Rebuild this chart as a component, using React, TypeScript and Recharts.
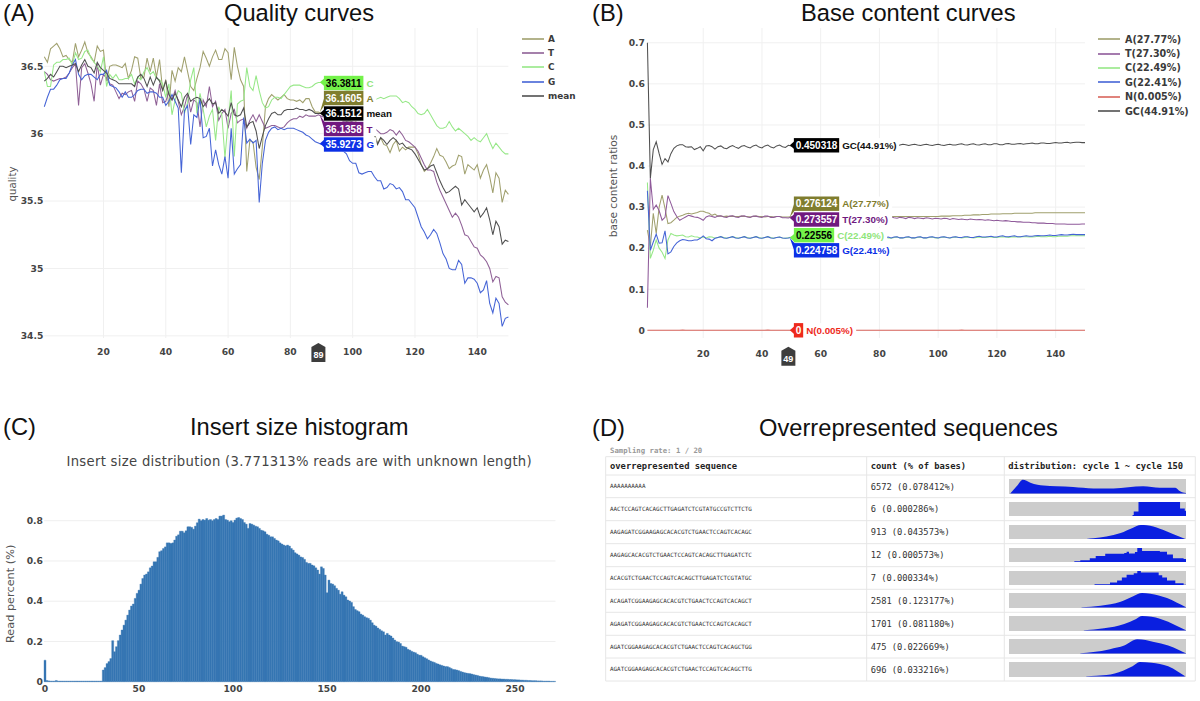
import React from 'react';
import { LineChart, Line, BarChart, Bar, AreaChart, Area, XAxis, YAxis, CartesianGrid, ReferenceDot, Legend } from 'recharts';

const cycles = Array.from({ length: 150 }, (_, i) => i + 1);

const qualityA = [36.57,36.53,36.63,36.65,36.67,36.63,36.57,36.58,36.55,36.53,36.67,36.57,36.62,36.68,36.60,36.57,36.53,36.65,36.61,36.62,36.39,36.50,36.51,36.51,36.50,36.49,36.52,36.41,36.47,36.57,36.56,36.41,36.42,36.56,36.46,36.56,36.42,36.55,36.32,36.40,36.20,36.47,36.39,36.49,36.46,36.57,36.46,36.35,36.32,36.41,36.49,36.61,36.56,36.50,36.57,36.62,36.55,36.55,36.63,36.60,36.40,36.64,36.50,36.40,36.35,35.72,35.95,35.94,35.75,35.66,35.90,36.20,36.26,36.29,36.27,36.25,36.27,36.29,36.26,36.25,36.25,36.24,36.25,36.23,36.26,36.26,36.20,36.16,36.16,36.15,36.14,36.15,36.13,36.12,36.13,36.11,36.10,36.11,36.09,36.08,36.09,36.07,36.06,36.05,36.04,36.03,36.00,35.93,35.97,35.92,35.91,35.86,35.92,35.95,35.87,35.90,35.88,35.90,35.90,35.90,35.85,35.77,35.72,35.74,35.78,35.83,35.89,35.84,35.83,35.79,35.74,35.76,35.77,35.84,35.83,35.70,35.77,35.75,35.73,35.77,35.67,35.73,35.77,35.68,35.56,35.71,35.67,35.49,35.58,35.55];
const qualityT = [36.46,36.44,36.40,36.39,36.40,36.41,36.41,36.42,36.45,36.49,36.52,36.21,36.49,36.52,36.45,36.37,36.24,36.52,36.36,36.44,36.41,36.37,36.36,36.31,36.26,36.30,36.29,36.31,36.32,36.24,36.39,36.37,36.33,36.24,36.34,36.32,36.21,36.37,36.23,36.24,36.31,36.25,36.32,36.24,36.14,36.20,36.29,36.16,36.25,36.23,36.05,36.25,36.20,36.35,36.20,36.24,36.10,36.15,36.18,36.04,36.15,36.18,36.08,36.10,36.11,36.04,36.10,36.14,36.09,36.14,36.09,36.04,36.05,36.06,36.06,36.05,36.04,36.05,36.08,36.10,36.11,36.11,36.13,36.12,36.14,36.13,36.13,36.13,36.14,36.13,36.12,36.13,36.11,36.12,36.10,36.11,36.09,36.10,36.08,36.09,36.07,36.08,36.06,36.07,36.05,36.05,36.04,36.02,36.00,36.00,36.01,36.03,36.02,35.99,36.02,35.99,35.95,35.94,35.92,35.90,35.87,35.82,35.77,35.73,35.73,35.72,35.64,35.58,35.53,35.48,35.43,35.38,35.41,35.38,35.32,35.25,35.24,35.20,35.16,35.15,35.10,35.08,35.05,35.00,34.90,34.94,34.93,34.79,34.75,34.73];
const qualityC = [36.46,36.35,36.35,36.51,36.53,36.53,36.55,36.55,36.56,36.51,36.60,36.55,36.56,36.61,36.62,36.56,36.53,36.50,36.46,36.57,36.35,36.44,36.41,36.44,36.40,36.40,36.41,36.41,36.44,36.37,36.42,36.40,36.46,36.49,36.44,36.46,36.41,36.40,36.37,36.27,36.37,36.14,36.25,36.32,36.30,36.15,36.23,36.40,36.49,36.15,36.30,36.18,36.05,36.13,36.18,35.95,36.20,36.14,35.82,36.09,36.32,35.83,36.22,36.24,36.25,36.49,36.35,36.32,36.43,36.32,36.23,36.19,36.20,36.25,36.27,36.27,36.26,36.29,36.32,36.35,36.36,36.36,36.36,36.35,36.34,36.34,36.35,36.37,36.38,36.38,36.37,36.38,36.36,36.35,36.36,36.34,36.33,36.32,36.32,36.30,36.31,36.29,36.28,36.28,36.26,36.26,36.25,36.26,36.27,36.26,36.27,36.28,36.28,36.28,36.26,36.23,36.24,36.23,36.20,36.18,36.15,36.14,36.15,36.18,36.14,36.10,36.06,36.04,36.04,36.05,36.09,36.05,36.02,36.04,36.02,36.00,35.98,35.95,35.97,35.95,35.94,35.97,36.00,35.94,35.89,35.93,35.90,35.87,35.85,35.85];
const qualityG = [36.20,36.27,36.33,36.33,36.36,36.40,36.41,36.41,36.45,36.51,36.55,36.44,36.40,36.43,36.44,36.44,36.42,36.40,36.44,36.44,36.47,36.36,36.35,36.34,36.31,36.27,36.31,36.27,36.27,36.29,36.32,36.33,36.33,36.30,36.31,36.31,36.30,36.27,36.27,36.21,36.24,36.29,36.24,36.19,35.71,36.17,36.21,35.92,36.14,36.12,36.26,35.97,35.98,36.04,35.76,35.88,35.77,35.70,35.83,35.67,36.04,35.70,35.74,35.77,36.12,35.93,35.96,35.93,35.95,35.49,35.78,35.95,36.01,36.04,36.05,36.03,36.04,36.03,36.04,36.04,36.04,36.03,36.02,36.01,35.99,35.98,35.96,35.94,35.93,35.92,35.92,35.91,35.91,35.90,35.89,35.88,35.87,35.85,35.80,35.78,35.78,35.71,35.70,35.71,35.72,35.72,35.68,35.65,35.65,35.59,35.60,35.63,35.62,35.59,35.60,35.57,35.51,35.51,35.48,35.45,35.38,35.31,35.27,35.22,35.25,35.29,35.26,35.19,35.11,35.07,35.00,34.99,34.99,35.06,35.03,34.89,34.93,34.93,34.92,34.89,34.82,34.84,34.91,34.74,34.67,34.78,34.74,34.57,34.63,34.64];
const qualityMean = [36.39,36.41,36.44,36.42,36.46,36.50,36.50,36.49,36.50,36.51,36.52,36.46,36.51,36.55,36.50,36.49,36.45,36.53,36.49,36.47,36.45,36.41,36.40,36.39,36.37,36.37,36.37,36.37,36.37,36.35,36.42,36.44,36.41,36.35,36.42,36.36,36.42,36.39,36.32,36.39,36.29,36.25,36.30,36.25,36.20,36.27,36.30,36.24,36.26,36.27,36.26,36.20,36.23,36.26,36.22,36.23,36.15,36.18,36.16,36.13,36.23,36.14,36.13,36.14,36.19,36.05,36.08,36.09,36.02,35.89,35.98,36.06,36.11,36.15,36.16,36.14,36.14,36.17,36.18,36.18,36.18,36.19,36.18,36.18,36.17,36.18,36.17,36.15,36.15,36.15,36.14,36.13,36.14,36.12,36.11,36.12,36.10,36.09,36.10,36.08,36.07,36.06,36.05,36.04,36.03,36.01,35.99,35.92,35.97,35.95,35.92,35.95,35.97,35.95,35.92,35.93,35.90,35.89,35.88,35.85,35.81,35.77,35.73,35.74,35.76,35.77,35.71,35.65,35.60,35.56,35.57,35.59,35.61,35.59,35.47,35.51,35.48,35.45,35.42,35.45,35.38,35.41,35.45,35.36,35.25,35.35,35.31,35.18,35.21,35.20];

const contentA = [.244,.204,.285,.236,.30,.329,.297,.26,.262,.268,.275,.278,.28,.283,.285,.283,.285,.287,.29,.29,.287,.285,.28,.283,.278,.278,.277,.278,.277,.278,.277,.277,.278,.277,.277,.276,.277,.278,.277,.277,.276,.277,.277,.276,.277,.277,.276,.276,.276,.277,.276,.276,.277,.276,.276,.277,.276,.276,.277,.276,.276,.277,.276,.277,.277,.276,.277,.277,.276,.277,.277,.276,.277,.277,.277,.276,.277,.277,.276,.277,.277,.277,.277,.277,.277,.277,.277,.277,.277,.277,.277,.277,.277,.277,.277,.277,.277,.277,.277,.277,.278,.278,.278,.278,.279,.279,.279,.279,.280,.280,.280,.281,.281,.281,.282,.282,.282,.283,.283,.283,.283,.284,.284,.284,.284,.285,.285,.285,.285,.285,.285,.285,.286,.286,.286,.286,.286,.286,.286,.286,.286,.286,.286,.286,.286,.286,.286,.286,.286,.286];
const contentT = [.055,.37,.294,.305,.291,.268,.275,.328,.309,.289,.277,.268,.272,.276,.28,.278,.276,.275,.272,.268,.276,.279,.277,.275,.278,.279,.276,.275,.278,.279,.276,.275,.278,.279,.276,.275,.278,.278,.276,.275,.278,.278,.275,.275,.277,.277,.274,.274,.2736,.276,.274,.273,.276,.275,.273,.276,.275,.273,.276,.275,.273,.276,.275,.273,.275,.275,.273,.275,.275,.273,.275,.275,.273,.275,.275,.273,.275,.275,.273,.275,.274,.273,.275,.276,.274,.273,.275,.274,.272,.275,.274,.272,.274,.273,.272,.274,.273,.271,.273,.272,.271,.273,.272,.270,.272,.271,.270,.271,.270,.269,.271,.270,.269,.270,.269,.268,.269,.268,.267,.268,.267,.266,.267,.266,.265,.265,.264,.264,.263,.263,.263,.262,.262,.261,.261,.261,.260,.260,.260,.259,.259,.259,.259,.258,.258,.258,.258,.258,.259,.259];
const contentC = [.36,.175,.195,.22,.20,.19,.175,.22,.236,.232,.23,.231,.232,.228,.227,.23,.228,.227,.225,.227,.225,.228,.227,.224,.226,.228,.226,.224,.226,.228,.226,.224,.226,.228,.226,.224,.226,.228,.226,.224,.226,.228,.226,.224,.226,.227,.225,.224,.2256,.227,.225,.224,.226,.227,.225,.224,.226,.227,.225,.224,.226,.227,.225,.224,.226,.227,.225,.224,.226,.227,.225,.224,.226,.227,.225,.224,.226,.227,.225,.224,.226,.227,.225,.224,.226,.227,.225,.225,.226,.227,.225,.225,.226,.227,.225,.225,.226,.227,.225,.225,.226,.227,.226,.225,.226,.227,.226,.225,.226,.227,.226,.225,.226,.227,.226,.226,.227,.227,.226,.226,.227,.228,.227,.226,.227,.228,.227,.227,.228,.228,.227,.227,.228,.229,.228,.228,.228,.229,.228,.228,.229,.229,.229,.229,.230,.230,.230,.230,.230,.230];
const contentG = [.34,.195,.215,.234,.212,.213,.242,.186,.191,.204,.213,.218,.221,.22,.218,.218,.22,.22,.224,.23,.223,.222,.218,.224,.226,.228,.225,.224,.226,.228,.225,.224,.226,.228,.225,.224,.226,.228,.225,.224,.226,.228,.225,.224,.226,.227,.225,.224,.2248,.226,.228,.225,.224,.226,.228,.225,.224,.226,.227,.225,.224,.226,.227,.225,.224,.226,.227,.225,.224,.226,.227,.225,.224,.226,.227,.225,.224,.226,.227,.225,.224,.226,.227,.225,.227,.228,.225,.225,.227,.228,.225,.225,.227,.228,.225,.225,.227,.228,.226,.225,.227,.228,.226,.225,.227,.228,.226,.226,.228,.228,.226,.226,.228,.229,.227,.227,.228,.229,.227,.227,.229,.230,.228,.228,.229,.230,.228,.228,.229,.230,.229,.229,.230,.231,.230,.230,.231,.232,.231,.231,.232,.233,.232,.232,.233,.234,.233,.233,.233,.233];
const contentN = [0,0,0,0,0,0,0,0,0,0,0,0,.001,0,0,0,0,0,0,0,0,0,0,0,0,0,0,0,0,0,0,0,0,0,0,0,0,0,0,0,0,.001,0,0,0,0,0,0,0,0,0,0,0,0,0,0,0,0,0,0,0,0,0,0,0,0,0,0,0,0,0,0,0,0,0,0,0,0,0,0,0,0,0,0,0,0,0,0,0,0,0,0,0,0,0,0,0,0,0,0,0,0,0,0,0,0,0,.001,0,0,0,0,0,0,0,0,0,0,0,0,0,0,0,0,0,0,0,0,0,0,0,0,0,0,0,0,0,0,0,0,0,0,0,0,0,0,0,0,0,0];
const contentGC = [.70,.37,.44,.459,.43,.404,.418,.41,.43,.443,.449,.452,.452,.447,.446,.447,.44,.443,.447,.437,.449,.45,.447,.441,.447,.449,.444,.442,.447,.45,.446,.443,.448,.45,.446,.444,.449,.451,.446,.444,.449,.451,.446,.444,.449,.451,.447,.445,.4503,.449,.447,.450,.451,.448,.447,.450,.451,.448,.447,.450,.451,.448,.447,.450,.451,.448,.447,.450,.451,.448,.447,.450,.451,.448,.448,.450,.451,.449,.448,.450,.451,.449,.448,.450,.451,.449,.451,.453,.452,.450,.452,.453,.451,.450,.452,.453,.451,.450,.452,.453,.451,.450,.452,.453,.451,.451,.453,.454,.452,.451,.453,.454,.452,.451,.453,.454,.452,.452,.454,.454,.452,.452,.454,.455,.453,.453,.454,.455,.453,.454,.455,.456,.454,.454,.456,.456,.455,.455,.456,.457,.456,.456,.457,.458,.456,.457,.458,.458,.457,.457];

const insertSizes = Array.from({ length: 272 }, (_, i) => i);
const insertPercent = [.107,.006,.004,.003,.003,.003,.006,.003,.003,.003,.003,.003,.003,.003,.003,.003,.003,.003,.003,.003,.003,.003,.003,.003,.003,.003,.003,.003,.003,.003,.003,.058,.07,.09,.10,.115,.204,.149,.174,.204,.232,.257,.281,.306,.331,.356,.376,.386,.414,.439,.455,.485,.513,.53,.535,.546,.566,.575,.596,.596,.618,.646,.651,.662,.67,.69,.69,.687,.69,.704,.723,.73,.748,.748,.74,.75,.77,.77,.767,.758,.773,.79,.808,.80,.806,.803,.811,.803,.806,.80,.806,.811,.806,.823,.823,.828,.806,.803,.795,.80,.791,.803,.813,.816,.811,.806,.791,.783,.762,.786,.783,.778,.773,.77,.762,.753,.75,.745,.733,.728,.72,.72,.712,.704,.70,.69,.684,.679,.675,.679,.674,.662,.654,.641,.635,.629,.62,.617,.608,.593,.588,.588,.58,.576,.566,.555,.535,.571,.563,.53,.442,.505,.488,.485,.477,.464,.455,.435,.447,.43,.422,.406,.401,.394,.373,.359,.353,.348,.336,.331,.323,.318,.315,.306,.293,.281,.276,.267,.26,.253,.248,.232,.24,.232,.227,.217,.207,.199,.197,.19,.177,.174,.171,.161,.157,.151,.147,.144,.137,.132,.131,.124,.119,.114,.108,.103,.099,.096,.091,.088,.084,.081,.078,.075,.075,.071,.066,.061,.06,.058,.055,.051,.048,.045,.043,.041,.04,.038,.035,.033,.031,.028,.026,.025,.023,.022,.02,.018,.017,.016,.015,.014,.014,.013,.013,.012,.012,.011,.011,.01,.01,.009,.009,.008,.008,.007,.007,.006,.006,.005,.005,.005,.004,.004,.004,.003,.003,.003,.003,.002,.002,.002];

const sequences = ['AAAAAAAAAA','AACTCCAGTCACAGCTTGAGATCTCGTATGCCGTCTTCTG','AAGAGATCGGAAGAGCACACGTCTGAACTCCAGTCACAGC','AAGAGCACACGTCTGAACTCCAGTCACAGCTTGAGATCTC','ACACGTCTGAACTCCAGTCACAGCTTGAGATCTCGTATGC','ACAGATCGGAAGAGCACACGTCTGAACTCCAGTCACAGCT','AGAGATCGGAAGAGCACACGTCTGAACTCCAGTCACAGCT','AGATCGGAAGAGCACACGTCTGAACTCCAGTCACAGCTGG','AGATCGGAAGAGCACACGTCTGAACTCCAGTCACAGCTTG'];
const sequenceCounts = ['6572 (0.078412%)','6 (0.000286%)','913 (0.043573%)','12 (0.000573%)','7 (0.000334%)','2581 (0.123177%)','1701 (0.081180%)','475 (0.022669%)','696 (0.033216%)'];

const spark1 = [[2,0],[8,.55],[12.5,.95],[19,.75],[25,.6],[30,.55],[41,.5],[55,.45],[72,.35],[89,.35],[114,.5],[128,.4],[141,.4],[145,.15],[150,.03]];
const spark2 = [[105,.1],[106,.35],[110,1],[144,1],[145,.55],[149,.4],[150,.1]];
const spark3 = [[64,.02],[72,.08],[83,.2],[95,.45],[105,.8],[112,1],[117,.98],[128,.75],[140,.35],[150,.02]];
const spark4 = [[56,.08],[61,.15],[69,.3],[74,.45],[82,.6],[98,.65],[100,.75],[102,.62],[107,.72],[109,1],[113,.8],[128,.75],[134,.55],[139,.3],[148,.25],[150,.05]];
const spark5 = [[73,.08],[86,.2],[92,.35],[96,.55],[100,.75],[106,.85],[109,1],[112,.9],[127,.7],[130,.55],[134,.35],[141,.15],[148,.05],[150,.05]];
const spark6 = [[62,.02],[78,.12],[95,.4],[106,.8],[113,1],[120,.95],[134,.65],[142,.35],[150,.02]];
const spark7 = [[64,.02],[81,.15],[98,.45],[108,.8],[113,1],[121,.95],[135,.6],[142,.33],[150,.02]];
const spark8 = [[61,.02],[72,.1],[86,.3],[98,.55],[109,.98],[123,.8],[135,.55],[144,.25],[150,.02]];
const spark9 = [[66,.02],[83,.1],[97,.4],[105,.7],[111,1],[121,.95],[135,.7],[143,.35],[149,.03]];
const sparks = [spark1, spark2, spark3, spark4, spark5, spark6, spark7, spark8, spark9];
const stepped = [false, true, false, true, true, false, false, false, false];

const qualityRows = cycles.map((x, i) => ({ x, A: qualityA[i], T: qualityT[i], C: qualityC[i], G: qualityG[i], mean: qualityMean[i] }));
const contentRows = cycles.map((x, i) => ({ x, A: contentA[i], T: contentT[i], C: contentC[i], G: contentG[i], N: contentN[i], GC: contentGC[i] }));
const insertRows = insertSizes.map((size, i) => ({ size, pct: insertPercent[i] }));

const SANS = '"Liberation Sans", Arial, sans-serif';
const VERD = '"DejaVu Sans", Verdana, sans-serif';
const MONO = '"DejaVu Sans Mono", monospace';
const TICK = { fontFamily: VERD, fontSize: 9.2, fontWeight: 700, fill: '#444' };

const qualitySeries = [
  { key: 'A', name: 'A', color: '#a0a06e' },
  { key: 'T', name: 'T', color: '#8f6096' },
  { key: 'C', name: 'C', color: '#97e888' },
  { key: 'G', name: 'G', color: '#4564d6' },
  { key: 'mean', name: 'mean', color: '#505050' },
];
const contentSeries = [
  { key: 'A', name: 'A(27.77%)', color: '#a0a06e' },
  { key: 'T', name: 'T(27.30%)', color: '#8f5a9a' },
  { key: 'C', name: 'C(22.49%)', color: '#97e888' },
  { key: 'G', name: 'G(22.41%)', color: '#4564d6' },
  { key: 'N', name: 'N(0.005%)', color: '#d9645c' },
  { key: 'GC', name: 'GC(44.91%)', color: '#505050' },
];

const OLIVE = '#7f7d2e', PURPLE = '#70197f', GREEN = '#74f24a', BLUE = '#0b2fe6', RED = '#ee2a1c';
const qualityTags = [
  { y: 36.3811, text: '36.3811', label: 'C', fill: GREEN, ink: '#000', labelInk: '#8fe57a', center: 83, w: 39.5, lw: 10 },
  { y: 36.1605, text: '36.1605', label: 'A', fill: OLIVE, ink: '#fff', labelInk: OLIVE, center: 98, w: 39.5, lw: 10 },
  { y: 36.1512, text: '36.1512', label: 'mean', fill: '#000', ink: '#fff', labelInk: '#111', center: 113.5, w: 39.5, lw: 27 },
  { y: 36.1358, text: '36.1358', label: 'T', fill: PURPLE, ink: '#fff', labelInk: PURPLE, center: 129, w: 39.5, lw: 10 },
  { y: 35.9273, text: '35.9273', label: 'G', fill: BLUE, ink: '#fff', labelInk: BLUE, center: 144.5, w: 39.5, lw: 10 },
];
const contentTags = [
  { y: 0.450318, text: '0.450318', label: 'GC(44.91%)', fill: '#000', ink: '#fff', labelInk: '#111', center: 145.3, w: 45.3, lw: 57 },
  { y: 0.276124, text: '0.276124', label: 'A(27.77%)', fill: OLIVE, ink: '#fff', labelInk: OLIVE, center: 203.7, w: 45.3, lw: 50 },
  { y: 0.273557, text: '0.273557', label: 'T(27.30%)', fill: PURPLE, ink: '#fff', labelInk: PURPLE, center: 219.5, w: 45.3, lw: 50 },
  { y: 0.22556, text: '0.22556', label: 'C(22.49%)', fill: GREEN, ink: '#000', labelInk: '#8fe57a', center: 235.2, w: 40.3, lw: 50 },
  { y: 0.224758, text: '0.224758', label: 'G(22.41%)', fill: BLUE, ink: '#fff', labelInk: BLUE, center: 250.3, w: 45.3, lw: 50 },
  { y: 0, text: '0', label: 'N(0.005%)', fill: RED, ink: '#fff', labelInk: RED, center: 330.3, w: 9.3, lw: 50 },
];

function tagShape(t: any) {
  return (p: any) => {
    const cx = p.cx, cy = p.cy;
    const left = cx + 5.5, h = 14.4, top = t.center - h / 2;
    const base = Math.max(top + 4, Math.min(top + h - 4, cy));
    return (
      <g>
        <rect x={left} y={top} width={t.w + t.lw + 3} height={h} fill="#fff" />
        <polygon points={`${cx + 1.5},${cy} ${left + 0.5},${base - 4} ${left + 0.5},${base + 4}`} fill={t.fill} />
        <rect x={left} y={top} width={t.w} height={h} fill={t.fill} />
        <text x={left + t.w / 2} y={t.center + 3.5} textAnchor="middle" fontFamily={SANS} fontWeight={700} fontSize={10} fill={t.ink}>{t.text}</text>
        <text x={left + t.w + 3} y={t.center + 3.5} fontFamily={SANS} fontWeight={700} fontSize={9.8} fill={t.labelInk}>{t.label}</text>
      </g>
    );
  };
}

function cursorShape(text: string, gap: number) {
  return (p: any) => {
    const cx = p.cx, cy = p.cy + gap;
    return (
      <g>
        <polygon points={`${cx},${cy} ${cx + 7},${cy + 4} ${cx + 7},${cy + 19} ${cx - 7},${cy + 19} ${cx - 7},${cy + 4}`} fill="#3d3d3d" />
        <text x={cx} y={cy + 15} textAnchor="middle" fontFamily={SANS} fontWeight={700} fontSize={9} fill="#fff">{text}</text>
      </g>
    );
  };
}

function legendContent(fontSize: number, lineW: number, textGap: number) {
  return (p: any) => (
    <div>
      {(p.payload || []).map((e: any) => (
        <div key={e.value} style={{ display: 'flex', alignItems: 'center', height: 14.4, whiteSpace: 'nowrap' }}>
          <svg width={lineW} height={4} style={{ marginRight: textGap, flex: 'none' }}>
            <line x1={0} x2={lineW} y1={2} y2={2} stroke={e.color} strokeWidth={1.6} />
          </svg>
          <span style={{ fontFamily: VERD, fontWeight: 700, fontSize, color: '#3a3a3a' }}>{e.value}</span>
        </div>
      ))}
    </div>
  );
}

const rowTops = [475, 497.7, 520.7, 543.7, 566.7, 589.3, 612.3, 635.3, 658];
const colLines = [605.7, 866.7, 1004.3, 1195.3];

function Backdrop() {
  const title = (x: number, y: number, s: string) => (
    <text x={x} y={y} fontFamily={SANS} fontSize={23.7} fill="#111">{s}</text>
  );
  return (
    <svg width={1200} height={701} style={{ position: 'absolute', left: 0, top: 0 }}>
      {title(3, 21, '(A)')}
      {title(224, 21, 'Quality curves')}
      {title(592, 21, '(B)')}
      {title(801, 21, 'Base content curves')}
      {title(3, 435, '(C)')}
      {title(190, 435, 'Insert size histogram')}
      {title(592, 436, '(D)')}
      {title(759, 436, 'Overrepresented sequences')}
      <text x={66.5} y={466} fontFamily={VERD} fontSize={13.2} letterSpacing={0.3} fill="#444">Insert size distribution (3.771313% reads are with unknown length)</text>
      <text x={610} y={453} fontFamily={MONO} fontWeight={700} fontSize={7.3} fill="#999">Sampling rate: 1 / 20</text>
      {[456.7, ...rowTops, 681].map((y) => (
        <line key={y} x1={605.7} x2={1195.3} y1={y} y2={y} stroke="#e6e6e6" />
      ))}
      {colLines.map((x) => (
        <line key={x} x1={x} x2={x} y1={456.7} y2={681} stroke="#e6e6e6" />
      ))}
      <text x={610} y={469} fontFamily={MONO} fontWeight={700} fontSize={8.8} fill="#222">overrepresented sequence</text>
      <text x={870.7} y={469} fontFamily={MONO} fontWeight={700} fontSize={8.8} fill="#222">count (% of bases)</text>
      <text x={1008.3} y={469} fontFamily={MONO} fontWeight={700} fontSize={8.8} fill="#222">distribution: cycle 1 ~ cycle 150</text>
      {sequences.map((s, i) => (
        <text key={s} x={610} y={rowTops[i] + 13.4} fontFamily={MONO} fontSize={5.9} fill="#333">{s}</text>
      ))}
      {sequenceCounts.map((s, i) => (
        <text key={s} x={870.7} y={rowTops[i] + 14.6} fontFamily={MONO} fontSize={8.75} fill="#333">{s}</text>
      ))}
    </svg>
  );
}

const xTicks = [20, 40, 60, 80, 100, 120, 140];
const qualityTicks = [34.5, 35, 35.5, 36, 36.5];
const contentTicks = [0, 0.1, 0.2, 0.3, 0.4, 0.5, 0.6, 0.7];
const insertTicks = [0, 0.2, 0.4, 0.6, 0.8];

export default function App() {
  return (
    <div style={{ position: 'absolute', left: 0, top: 0, width: 1200, height: 701, background: '#fff', overflow: 'hidden' }}>
      <Backdrop />

      <div style={{ position: 'absolute', left: 0, top: 0 }}>
        <LineChart width={600} height={375} data={qualityRows} margin={{ left: 0, right: 91.6, top: 28, bottom: 7 }}>
          <CartesianGrid stroke="#f0f0f0" syncWithTicks />
          <XAxis dataKey="x" type="number" domain={[1, 150]} ticks={xTicks} height={30} tickLine={false} axisLine={false} tickSize={0} tickMargin={10} tick={TICK} />
          <YAxis type="number" domain={[34.484, 36.784]} ticks={qualityTicks} width={44.3} tickLine={false} axisLine={false} tickSize={0} tickMargin={1} tick={TICK}
            label={{ value: 'quality', angle: -90, position: 'insideLeft', offset: 0, dx: 12, dy: 1, textAnchor: 'middle', style: { fontFamily: VERD, fontSize: 10.2, fill: '#555', textAnchor: 'middle' } }} />
          <Legend layout="horizontal" verticalAlign="middle" itemSorter={null} wrapperStyle={{ left: 521.5, top: 31.5, width: 70 }} content={legendContent(8.9, 22.5, 4)} />
          {qualitySeries.map((s) => (
            <Line key={s.key} dataKey={s.key} name={s.name} stroke={s.color} strokeWidth={1.05} dot={false} isAnimationActive={false} />
          ))}
          {qualityTags.map((t) => (
            <ReferenceDot key={t.label} x={89} y={t.y} r={0} shape={tagShape(t)} />
          ))}
          <ReferenceDot x={89} y={34.484} r={0} shape={cursorShape('89', 5)} />
        </LineChart>
      </div>

      <div style={{ position: 'absolute', left: 590, top: 0 }}>
        <LineChart width={610} height={375} data={contentRows} margin={{ left: 0, right: 115, top: 28, bottom: 7 }}>
          <CartesianGrid stroke="#f0f0f0" syncWithTicks />
          <XAxis dataKey="x" type="number" domain={[1, 150]} ticks={xTicks} height={30} tickLine={false} axisLine={false} tickSize={0} tickMargin={12.5} tick={TICK} />
          <YAxis type="number" domain={[-0.0187, 0.736]} ticks={contentTicks} width={57.4} tickLine={false} axisLine={false} tickSize={0} tickMargin={2.4} tick={TICK}
            label={{ value: 'base content ratios', angle: -90, position: 'insideLeft', offset: 0, dx: 23, dy: 3, textAnchor: 'middle', style: { fontFamily: VERD, fontSize: 10.6, fill: '#555', textAnchor: 'middle' } }} />
          <Legend layout="horizontal" verticalAlign="middle" itemSorter={null} wrapperStyle={{ left: 508, top: 32, width: 100 }} content={legendContent(9.6, 22, 5)} />
          {contentSeries.map((s) => (
            <Line key={s.key} dataKey={s.key} name={s.name} stroke={s.color} strokeWidth={1.05} dot={false} isAnimationActive={false} />
          ))}
          {contentTags.map((t) => (
            <ReferenceDot key={t.label} x={49} y={t.y} r={0} shape={tagShape(t)} />
          ))}
          <ReferenceDot x={49} y={-0.0187} r={0} shape={cursorShape('49', 8.7)} />
        </LineChart>
      </div>

      <div style={{ position: 'absolute', left: 0, top: 490 }}>
        <BarChart width={600} height={211} data={insertRows} barCategoryGap={0} margin={{ left: 0, right: 44.5, top: 10, bottom: 0 }}>
          <CartesianGrid stroke="#efefef" vertical={false} syncWithTicks />
          <XAxis dataKey="size" ticks={[0, 50, 100, 150, 200, 250]} interval={0} height={19.3} tickLine={false} axisLine={false} tickSize={0} tickMargin={4} tick={TICK} />
          <YAxis type="number" domain={[0, 0.903]} ticks={insertTicks} width={44} tickLine={false} axisLine={false} tickSize={0} tickMargin={1} tick={TICK}
            label={{ value: 'Read percent (%)', angle: -90, position: 'insideLeft', offset: 0, dx: 10, dy: 3, textAnchor: 'middle', style: { fontFamily: VERD, fontSize: 11.3, fill: '#555', textAnchor: 'middle' } }} />
          <Bar dataKey="pct" fill="#3676b3" stroke="#3676b3" strokeWidth={0.35} isAnimationActive={false} />
        </BarChart>
      </div>

      {sparks.map((spark, i) => (
        <div key={i} style={{ position: 'absolute', left: 1008.7, top: 479 + rowTops[i] - 475, width: 177, height: 14.5, background: '#cccccc' }}>
          <AreaChart width={177} height={14.5} data={spark.map(([c, v]) => ({ c, v }))} margin={{ left: 0, right: 0, top: 0, bottom: 0 }}>
            <XAxis dataKey="c" type="number" domain={[1, 150]} hide />
            <YAxis type="number" domain={[0, 1]} hide />
            <Area dataKey="v" type={stepped[i] ? 'stepAfter' : 'monotone'} stroke="none" fill="#0a1fe0" fillOpacity={1} isAnimationActive={false} />
          </AreaChart>
        </div>
      ))}
    </div>
  );
}
